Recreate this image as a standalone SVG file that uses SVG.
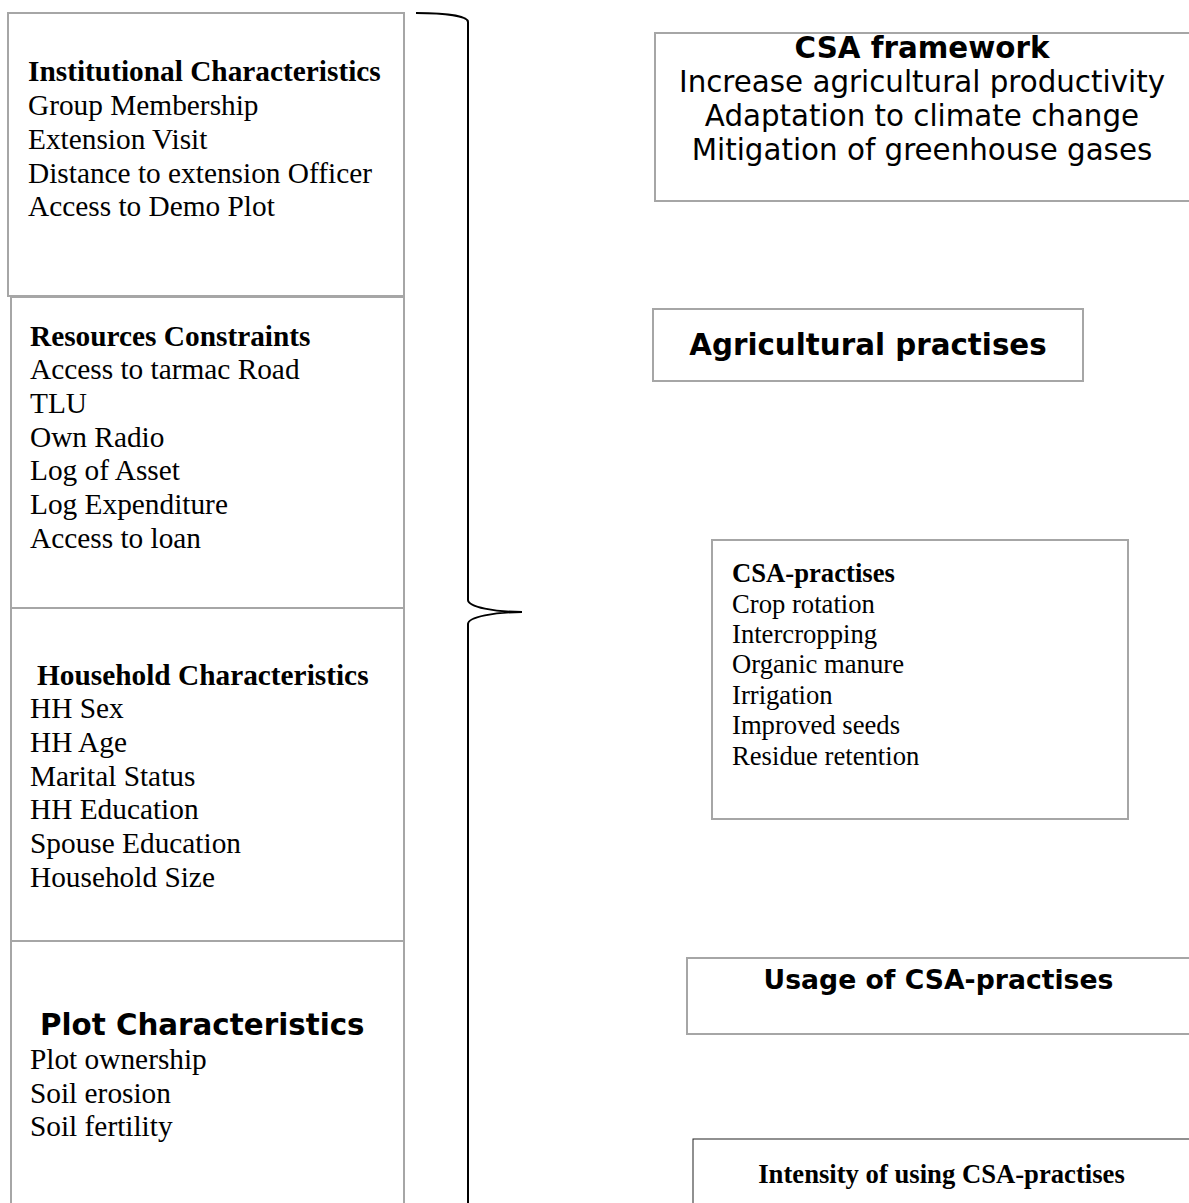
<svg xmlns="http://www.w3.org/2000/svg" width="1189" height="1203" viewBox="0 0 1189 1203">
<style>
.box{fill:#fff;stroke:#a6a6a6;stroke-width:2}
.box2{fill:#fff;stroke:#222;stroke-width:1}
.serif{font-family:"Liberation Serif","Times New Roman",serif;fill:#000}
.sans{font-family:"DejaVu Sans","Noto Sans",sans-serif;fill:#000}
.l{font-size:29.33px}
.m{font-size:26.67px}
.b{font-weight:bold}
.brace{fill:none;stroke:#000;stroke-width:2}
</style>
<rect width="1189" height="1203" fill="#fff"/>
<g id="institutional">
<rect class="box" x="8" y="13" width="396" height="283"/>
<text class="serif l b" x="28" y="81">Institutional Characteristics</text>
<text class="serif l" x="28" y="115">Group Membership</text>
<text class="serif l" x="28" y="149">Extension Visit</text>
<text class="serif l" x="28" y="183">Distance to extension Officer</text>
<text class="serif l" x="28" y="216">Access to Demo Plot</text>
</g>
<g id="resources">
<rect class="box" x="11" y="297" width="393" height="311"/>
<text class="serif l b" x="30" y="346">Resources Constraints</text>
<text class="serif l" x="30" y="379">Access to tarmac Road</text>
<text class="serif l" x="30" y="413">TLU</text>
<text class="serif l" x="30" y="447">Own Radio</text>
<text class="serif l" x="30" y="480">Log of Asset</text>
<text class="serif l" x="30" y="514">Log Expenditure</text>
<text class="serif l" x="30" y="548">Access to loan</text>
</g>
<g id="household">
<rect class="box" x="11" y="608" width="393" height="333"/>
<text class="serif l b" x="37" y="685">Household Characteristics</text>
<text class="serif l" x="30" y="718">HH Sex</text>
<text class="serif l" x="30" y="752">HH Age</text>
<text class="serif l" x="30" y="786">Marital Status</text>
<text class="serif l" x="30" y="819">HH Education</text>
<text class="serif l" x="30" y="853">Spouse Education</text>
<text class="serif l" x="30" y="887">Household Size</text>
</g>
<g id="plot">
<rect class="box" x="11" y="941" width="393" height="280"/>
<text class="sans l b" x="40" y="1035">Plot Characteristics</text>
<text class="serif l" x="30" y="1069">Plot ownership</text>
<text class="serif l" x="30" y="1103">Soil erosion</text>
<text class="serif l" x="30" y="1136">Soil fertility</text>
</g>
<g id="csa-framework">
<rect class="box" x="655" y="33" width="560" height="168"/>
<text class="sans l b" x="922" y="58" text-anchor="middle">CSA framework</text>
<text class="sans l" x="922" y="92" text-anchor="middle">Increase agricultural productivity</text>
<text class="sans l" x="922" y="126" text-anchor="middle">Adaptation to climate change</text>
<text class="sans l" x="922" y="160" text-anchor="middle">Mitigation of greenhouse gases</text>
</g>
<g id="agricultural-practises">
<rect class="box" x="653" y="309" width="430" height="72"/>
<text class="sans l b" x="868" y="355" text-anchor="middle">Agricultural practises</text>
</g>
<g id="csa-practises">
<rect class="box" x="712" y="540" width="416" height="279"/>
<text class="serif m b" x="732" y="582">CSA-practises</text>
<text class="serif m" x="732" y="613">Crop rotation</text>
<text class="serif m" x="732" y="643">Intercropping</text>
<text class="serif m" x="732" y="673">Organic manure</text>
<text class="serif m" x="732" y="704">Irrigation</text>
<text class="serif m" x="732" y="734">Improved seeds</text>
<text class="serif m" x="732" y="765">Residue retention</text>
</g>
<g id="usage">
<rect class="box" x="687" y="958" width="530" height="76"/>
<text class="sans m b" x="938.5" y="989" text-anchor="middle">Usage of CSA-practises</text>
</g>
<g id="intensity">
<rect class="box2" x="693" y="1139" width="530" height="80"/>
<text class="serif m b" x="941.5" y="1183" text-anchor="middle">Intensity of using CSA-practises</text>
</g>
<g id="connectors">
<path class="brace" d="M416,13 C445,13 468,16 468,22 L468,600 C468,607 495,612 522,612 C495,612 468,617 468,624 L468,1210"/>
</g>
</svg>
